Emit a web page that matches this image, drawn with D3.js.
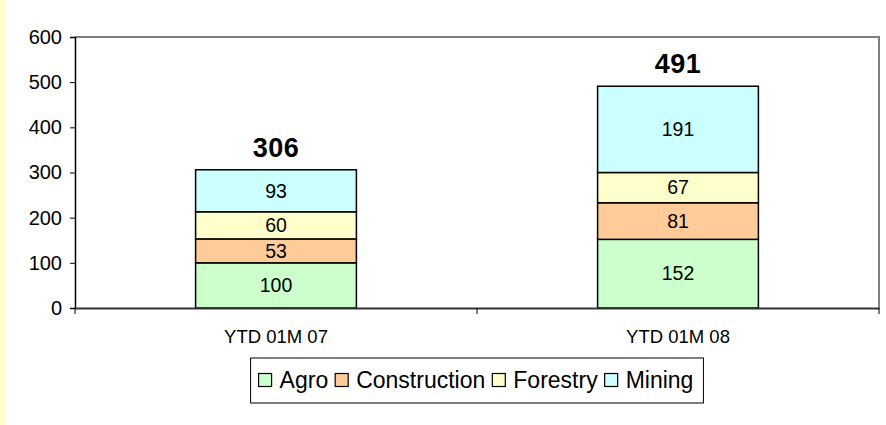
<!DOCTYPE html>
<html>
<head>
<meta charset="utf-8">
<script src="https://cdn.jsdelivr.net/npm/d3@7"></script>
<style>
  html, body { margin: 0; padding: 0; background: #fff; }
  svg { display: block; font-family: Arial, "Liberation Sans", sans-serif; }
</style>
</head>
<body>
<svg id="chart" width="886" height="425"></svg>
<script>
const categories = ['YTD 01M 07', 'YTD 01M 08'];
const seriesNames = ['Agro', 'Construction', 'Forestry', 'Mining'];
const agro = [100, 152];
const construction = [53, 81];
const forestry = [60, 67];
const mining = [93, 191];
const yTicks = [0, 100, 200, 300, 400, 500, 600];
const colors = ['#CCFFCC', '#FFCC99', '#FFFFCC', '#CCFFFF'];

const rows = categories.map((c, i) => ({
  cat: c,
  Agro: agro[i],
  Construction: construction[i],
  Forestry: forestry[i],
  Mining: mining[i]
}));

const svg = d3.select('#chart');
const margin = { top: 37, right: 7, bottom: 117, left: 75 };
const width = 886 - margin.left - margin.right;
const height = 425 - margin.top - margin.bottom;

// yellow strip on the left edge
svg.append('rect').attr('x', 0).attr('y', 0).attr('width', 6).attr('height', 425).attr('fill', '#FFFFCC');

const x = d3.scaleBand().domain(categories).range([0, width]).paddingInner(0.6).paddingOuter(0.3);
const y = d3.scaleLinear().domain([0, 600]).range([height, 0]);
const color = d3.scaleOrdinal().domain(seriesNames).range(colors);

const g = svg.append('g').attr('transform', `translate(${margin.left},${margin.top})`);

// plot frame (top & right)
g.append('path')
  .attr('d', `M0,0H${width}V${height}`)
  .attr('fill', 'none')
  .attr('stroke', '#808080')
  .attr('stroke-width', 2);

const stacked = d3.stack().keys(seriesNames)(rows);

const layer = g.selectAll('.layer')
  .data(stacked)
  .enter()
  .append('g')
  .attr('fill', (d) => color(d.key));

layer.selectAll('rect')
  .data((d) => d)
  .enter()
  .append('rect')
  .attr('x', (d) => x(d.data.cat))
  .attr('y', (d) => y(d[1]))
  .attr('width', x.bandwidth())
  .attr('height', (d) => y(d[0]) - y(d[1]))
  .attr('stroke', '#000')
  .attr('stroke-width', 1.5);

layer.selectAll('text')
  .data((d) => d)
  .enter()
  .append('text')
  .attr('x', (d) => x(d.data.cat) + x.bandwidth() / 2)
  .attr('y', (d) => (y(d[0]) + y(d[1])) / 2)
  .attr('dy', '0.35em')
  .attr('text-anchor', 'middle')
  .attr('fill', '#000')
  .style('font-size', '19.5px')
  .text((d) => d[1] - d[0]);

// totals
g.selectAll('.total')
  .data(rows)
  .enter()
  .append('text')
  .attr('class', 'total')
  .attr('x', (d) => x(d.cat) + x.bandwidth() / 2)
  .attr('y', (d) => y(d.Agro + d.Construction + d.Forestry + d.Mining) - 13)
  .attr('text-anchor', 'middle')
  .style('font-size', '27px')
  .style('font-weight', 'bold')
  .style('letter-spacing', '0.5px')
  .text((d) => d.Agro + d.Construction + d.Forestry + d.Mining);

// y axis
const yAxis = g.append('g')
  .call(d3.axisLeft(y).tickValues(yTicks).tickSize(5).tickPadding(8));
yAxis.select('.domain').attr('stroke', '#000').attr('stroke-width', 1.5);
yAxis.selectAll('.tick line').attr('stroke', '#000');
yAxis.selectAll('.tick text')
  .attr('fill', '#000')
  .attr('font-family', null)
  .attr('font-size', null)
  .style('font-size', '20px');

// x axis
const xAxis = g.append('g').attr('transform', `translate(0,${height})`)
  .call(d3.axisBottom(x).tickSize(0).tickPadding(22));
xAxis.select('.domain').attr('stroke', '#333').attr('stroke-width', 2);
xAxis.selectAll('.tick text')
  .attr('fill', '#000')
  .attr('font-family', null)
  .attr('font-size', null)
  .style('font-size', '18.5px');

// category boundary ticks
g.append('g')
  .selectAll('line')
  .data([0, 1, 2])
  .enter()
  .append('line')
  .attr('x1', (d) => (d * width) / 2)
  .attr('x2', (d) => (d * width) / 2)
  .attr('y1', height)
  .attr('y2', height + 6)
  .attr('stroke', '#000');

// legend
const legend = svg.append('g').attr('class', 'legend');
const box = legend.append('rect')
  .attr('fill', '#fff')
  .attr('stroke', '#000')
  .attr('stroke-width', 1);

const items = legend.selectAll('.item')
  .data(seriesNames)
  .enter()
  .append('g')
  .attr('class', 'item');

items.append('rect')
  .attr('width', 13)
  .attr('height', 13)
  .attr('y', -6.5)
  .attr('fill', (d) => color(d))
  .attr('stroke', '#000')
  .attr('stroke-width', 1.2);

items.append('text')
  .attr('x', 21)
  .attr('dy', '0.35em')
  .style('font-size', '23px')
  .text((d) => d);

let cursor = 0;
items.each(function () {
  const w = this.querySelector('text').getComputedTextLength();
  d3.select(this).attr('transform', `translate(${cursor},0)`);
  cursor += 21 + w + 7;
});

const padL = 8;
const padR = 10;
const legendW = cursor - 7 + padL + padR;
const legendX = margin.left + width / 2 - legendW / 2;
box.attr('x', -padL).attr('y', -22).attr('width', legendW).attr('height', 45);
legend.attr('transform', `translate(${legendX + padL},380)`);
</script>
</body>
</html>
